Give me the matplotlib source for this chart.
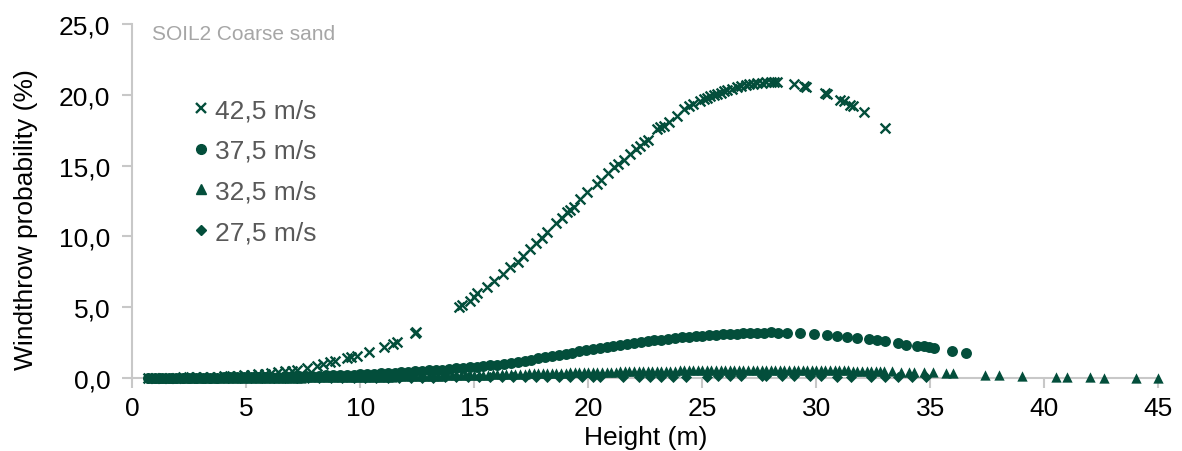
import matplotlib
matplotlib.use("Agg")
import matplotlib.pyplot as plt
from matplotlib.lines import Line2D
from matplotlib.ticker import FuncFormatter, MultipleLocator

plt.rcParams['font.family'] = ['Liberation Sans', 'DejaVu Sans']

# wind speed 42,5 m/s
h_425 = [0.7, 1.0, 1.3, 1.6, 1.9, 2.2, 2.5, 2.8, 3.1, 3.4, 3.7, 4.0, 4.3, 4.6, 4.9, 5.2,
         5.5, 5.8, 6.1, 6.4, 6.7, 7.0, 7.2, 7.66, 8.1, 8.38, 8.68, 8.9, 9.42, 9.6, 9.86,
         10.36, 11.02, 11.45, 11.61, 12.38, 12.46, 14.31, 14.45, 14.82, 15.0, 15.12, 15.55,
         15.85, 16.25, 16.58, 16.9, 17.15, 17.46, 17.7, 17.95, 18.19, 18.6, 18.85, 19.07,
         19.2, 19.35, 19.65, 19.95, 20.38, 20.55, 20.85, 21.11, 21.3, 21.55, 21.84, 22.1,
         22.25, 22.43, 22.6, 23.01, 23.15, 23.3, 23.55, 23.89, 24.18, 24.4, 24.6, 24.91,
         25.05, 25.2, 25.35, 25.5, 25.64, 25.8, 25.95, 26.1, 26.3, 26.52, 26.7, 26.9, 27.05,
         27.2, 27.4, 27.6, 27.8, 28.0, 28.15, 28.28, 29.0, 29.44, 29.55, 30.39, 30.45,
         31.05, 31.2, 31.49, 31.6, 32.07, 33.03]
p_425 = [0.01, 0.01, 0.02, 0.02, 0.03, 0.04, 0.05, 0.06, 0.07, 0.08, 0.10, 0.12, 0.14, 0.16,
         0.19, 0.22, 0.26, 0.30, 0.35, 0.40, 0.46, 0.52, 0.56, 0.68, 0.87, 0.99, 1.10, 1.20,
         1.39, 1.45, 1.53, 1.81, 2.16, 2.43, 2.56, 3.18, 3.25, 5.00, 5.12, 5.46, 5.75, 6.00,
         6.45, 6.87, 7.33, 7.81, 8.20, 8.60, 9.10, 9.50, 9.90, 10.28, 10.95, 11.30, 11.69,
         11.85, 12.10, 12.64, 13.10, 13.70, 13.95, 14.45, 14.87, 15.10, 15.40, 15.82, 16.15,
         16.35, 16.64, 16.80, 17.58, 17.70, 17.82, 18.10, 18.52, 18.99, 19.20, 19.35, 19.58,
         19.70, 19.80, 19.90, 19.98, 20.05, 20.15, 20.25, 20.32, 20.42, 20.52, 20.60, 20.68,
         20.73, 20.78, 20.82, 20.85, 20.87, 20.88, 20.88, 20.87, 20.75, 20.59, 20.55, 20.12,
         20.05, 19.65, 19.55, 19.27, 19.20, 18.76, 17.63]

# wind speed 37,5 m/s
h_375 = [0.7, 1.0, 1.3, 1.6, 1.9, 2.2, 2.5, 2.8, 3.1, 3.4, 3.7, 4.0, 4.3, 4.6, 4.9, 5.2, 5.5,
         5.8, 6.1, 6.4, 6.7, 7.0, 7.3, 7.6, 7.9, 8.2, 8.5, 8.8, 9.1, 9.4, 9.7, 10.0, 10.3,
         10.6, 10.9, 11.2, 11.5, 11.8, 12.1, 12.4, 12.7, 13.0, 13.3, 13.6, 13.9, 14.2, 14.5,
         14.8, 15.1, 15.4, 15.7, 16.0, 16.3, 16.6, 16.9, 17.2, 17.5, 17.8, 18.1, 18.4, 18.7,
         19.0, 19.3, 19.6, 19.9, 20.2, 20.5, 20.8, 21.1, 21.4, 21.7, 22.0, 22.3, 22.6, 22.9,
         23.2, 23.5, 23.8, 24.1, 24.4, 24.7, 25.0, 25.3, 25.6, 25.9, 26.2, 26.5, 26.8, 27.1,
         27.4, 27.7, 28.0, 28.3, 28.71, 29.3, 29.88, 30.47, 30.9, 31.35, 31.78, 32.29, 32.66,
         33.03, 33.57, 33.95, 34.42, 34.71, 34.93, 35.18, 35.95, 36.57]
p_375 = [0.0, 0.0, 0.01, 0.01, 0.01, 0.01, 0.02, 0.02, 0.02, 0.03, 0.03, 0.04, 0.04, 0.05,
         0.06, 0.06, 0.07, 0.08, 0.09, 0.10, 0.11, 0.12, 0.13, 0.14, 0.16, 0.17, 0.18, 0.19,
         0.21, 0.22, 0.24, 0.26, 0.28, 0.30, 0.32, 0.35, 0.37, 0.40, 0.43, 0.46, 0.50, 0.53,
         0.56, 0.60, 0.64, 0.68, 0.72, 0.76, 0.80, 0.85, 0.90, 0.95, 1.01, 1.07, 1.13, 1.20,
         1.29, 1.38, 1.47, 1.56, 1.64, 1.72, 1.80, 1.89, 1.97, 2.05, 2.13, 2.20, 2.27, 2.34,
         2.41, 2.48, 2.54, 2.60, 2.66, 2.71, 2.77, 2.82, 2.87, 2.91, 2.96, 3.00, 3.03, 3.06,
         3.09, 3.12, 3.14, 3.16, 3.18, 3.20, 3.21, 3.22, 3.20, 3.18, 3.15, 3.11, 3.04, 2.99,
         2.92, 2.85, 2.75, 2.68, 2.59, 2.47, 2.35, 2.28, 2.24, 2.17, 2.10, 1.88, 1.74]

# wind speed 32,5 m/s
h_325 = [0.8, 1.0, 1.2, 1.4, 1.6, 1.8, 2.0, 2.2, 2.4, 2.6,
         2.8, 3.0, 3.2, 3.4, 3.6, 3.8, 4.0, 4.2, 4.4, 4.6, 4.8,
         5.0, 5.2, 5.4, 5.6, 5.8, 6.0, 6.2,
         6.4, 6.6, 6.8, 7.0, 7.2, 7.4,
         7.6, 7.8, 8.0, 8.2, 8.4,
         8.6, 8.8, 9.0, 9.2, 9.4, 9.6, 9.8, 10.0, 10.2, 10.4, 10.6, 10.8,
         11.0, 11.2, 11.4, 11.6, 11.8, 12.0, 12.2, 12.4, 12.6, 12.8,
         13.0, 13.2, 13.4, 13.6, 13.8, 14.0, 14.2, 14.4, 14.6, 14.8,
         15.0, 15.2, 15.4, 15.6, 15.8, 16.0, 16.2, 16.4, 16.6, 16.8,
         17.0, 17.2, 17.4, 17.6, 17.8, 18.0, 18.2, 18.4, 18.6, 18.8,
         19.0, 19.2, 19.4, 19.6, 19.8, 20.0, 20.2, 20.4, 20.6, 20.8,
         21.0, 21.2, 21.4, 21.6, 21.8, 22.0, 22.2, 22.4, 22.6, 22.8,
         23.0, 23.2, 23.4, 23.6, 23.8, 24.0, 24.2, 24.4, 24.6, 24.8,
         25.0, 25.2, 25.4, 25.6, 25.8, 26.0, 26.2, 26.4, 26.6, 26.8,
         27.0, 27.2, 27.4, 27.6, 27.8, 28.0, 28.2, 28.4, 28.6, 28.8,
         29.0, 29.2, 29.4, 29.6, 29.8, 30.0, 30.2, 30.4, 30.6, 30.8,
         31.0, 31.2, 31.4, 31.6, 31.8, 32.0, 32.2, 32.4, 32.6, 32.8,
         32.95, 33.3, 33.7, 34.05, 34.3, 34.7, 35.1, 35.7, 36.0,
         37.4, 38.0, 39.0, 40.5, 41.0, 42.0, 42.6, 44.0, 45.0]
p_325 = [0.0, 0.0, 0.0, 0.0, 0.0, 0.0, 0.0, 0.0, 0.0, 0.0,
         0.01, 0.01, 0.01, 0.01, 0.01, 0.01, 0.01, 0.01, 0.01, 0.01, 0.01,
         0.02, 0.02, 0.02, 0.02, 0.02, 0.02, 0.02,
         0.03, 0.03, 0.03, 0.03, 0.03, 0.03,
         0.04, 0.04, 0.04, 0.04, 0.04,
         0.05, 0.05, 0.05, 0.06, 0.06, 0.06, 0.07, 0.07, 0.07, 0.08, 0.08, 0.08,
         0.09, 0.10, 0.10, 0.11, 0.11, 0.12, 0.12, 0.13, 0.14, 0.14,
         0.15, 0.16, 0.16, 0.17, 0.18, 0.18, 0.19, 0.20, 0.20, 0.21,
         0.22, 0.23, 0.23, 0.24, 0.25, 0.26, 0.27, 0.27, 0.28, 0.29,
         0.30, 0.31, 0.32, 0.32, 0.33, 0.34, 0.35, 0.36, 0.36, 0.37,
         0.38, 0.39, 0.39, 0.40, 0.41, 0.42, 0.42, 0.43, 0.44, 0.44,
         0.45, 0.45, 0.46, 0.47, 0.47, 0.48, 0.48, 0.49, 0.50, 0.50,
         0.51, 0.51, 0.52, 0.52, 0.52, 0.53, 0.53, 0.54, 0.54, 0.54,
         0.55, 0.55, 0.55, 0.56, 0.56, 0.56, 0.56, 0.57, 0.57, 0.57,
         0.57, 0.57, 0.57, 0.57, 0.57, 0.57, 0.57, 0.57, 0.57, 0.56,
         0.56, 0.56, 0.56, 0.56, 0.56, 0.55, 0.55, 0.55, 0.54, 0.54,
         0.54, 0.53, 0.53, 0.52, 0.52, 0.51, 0.51, 0.50, 0.50, 0.49,
         0.48, 0.47, 0.45, 0.44, 0.43, 0.41, 0.39, 0.33, 0.32,
         0.24, 0.21, 0.14, 0.08, 0.07, 0.04, 0.03, 0.01, 0.0]

# wind speed 27,5 m/s
h_275 = [0.7, 1.2, 1.7, 2.2, 2.7, 3.2, 3.7, 4.2, 4.7, 5.2, 5.7, 6.2, 6.7, 7.2, 7.7, 8.2, 8.7,
         9.2, 9.7, 10.2, 10.7, 11.2, 11.7, 12.2, 12.7, 13.2, 13.7, 14.2, 14.7, 15.2, 15.7,
         16.2, 16.7, 17.2, 17.7, 18.2, 18.7, 19.2, 19.7, 20.2, 20.5, 21.5, 22.2, 22.7, 23.2,
         23.7, 24.3, 25.2, 25.7, 26.2, 26.7, 27.6, 27.8, 28.5, 29.0, 29.7, 30.2, 30.9, 31.5,
         32.4, 33.0, 33.6, 34.2, 34.8]
p_275 = [0.0, 0.0, 0.0, 0.0, 0.0, 0.0, 0.0, 0.0, 0.0, 0.0, 0.01, 0.01, 0.01, 0.01, 0.01, 0.01,
         0.01, 0.01, 0.01, 0.02, 0.02, 0.02, 0.02, 0.03, 0.03, 0.03, 0.04, 0.04, 0.04, 0.05,
         0.05, 0.05, 0.06, 0.06, 0.06, 0.07, 0.07, 0.07, 0.08, 0.08, 0.08, 0.09, 0.09, 0.09,
         0.10, 0.10, 0.10, 0.10, 0.11, 0.11, 0.11, 0.11, 0.11, 0.11, 0.11, 0.11, 0.11, 0.10,
         0.10, 0.10, 0.09, 0.09, 0.08, 0.08]

labels = ['42,5 m/s', '37,5 m/s', '32,5 m/s', '27,5 m/s']
green = '#034E3B'
axis_grey = '#C8C8C8'

fig = plt.figure(figsize=(11.82, 4.52), dpi=100)
ax = fig.add_axes([0.112, 0.1615, 0.868, 0.7835])

ax.scatter(h_275, p_275, marker='D', s=32, color=green, linewidths=0, clip_on=False, zorder=3)
ax.scatter(h_325, p_325, marker='^', s=55, color=green, linewidths=0, clip_on=False, zorder=3)
ax.scatter(h_375, p_375, marker='o', s=62, color=green, linewidths=0, clip_on=False, zorder=3)
ax.scatter(h_425, p_425, marker='x', s=50, color=green, linewidths=1.7, clip_on=False, zorder=3)

ax.set_xlim(0, 45)
ax.set_ylim(0, 25)
ax.xaxis.set_major_locator(MultipleLocator(5))
ax.yaxis.set_major_locator(MultipleLocator(5))
ax.yaxis.set_major_formatter(FuncFormatter(lambda v, pos: f'{v:.1f}'.replace('.', ',')))

for side in ['top', 'right']:
    ax.spines[side].set_visible(False)
for side in ['left', 'bottom']:
    ax.spines[side].set_color(axis_grey)
    ax.spines[side].set_linewidth(1.5)
ax.tick_params(axis='both', direction='out', length=7, width=1.5, color=axis_grey,
               labelsize=19, labelcolor='black')
ax.tick_params(axis='y', pad=9)
ax.tick_params(axis='x', pad=6)

ax.set_xlabel('Height (m)', fontsize=19)
ax.set_ylabel('Windthrow probability (%)', fontsize=19)
ax.xaxis.set_label_coords(0.5, -0.133)
ax.yaxis.set_label_coords(-0.092, 0.449)

ax.text(0.0195, 0.972, 'SOIL2 Coarse sand', transform=ax.transAxes, fontsize=15,
        color='#A6A6A6', va='center', ha='left')

handles = [
    Line2D([], [], linestyle='none', marker='x', markersize=6.5, markeredgewidth=1.7, color=green),
    Line2D([], [], linestyle='none', marker='o', markersize=7, color=green),
    Line2D([], [], linestyle='none', marker='^', markersize=7, color=green),
    Line2D([], [], linestyle='none', marker='D', markersize=5.5, color=green),
]
leg = ax.legend(handles, labels, loc='upper left', bbox_to_anchor=(0.059, 0.79),
                frameon=False, fontsize=19, handlelength=0.6, handletextpad=0.23,
                labelspacing=0.63, borderpad=0, borderaxespad=0)
for t in leg.get_texts():
    t.set_color('#595959')

fig.savefig('out.png', dpi=100)
